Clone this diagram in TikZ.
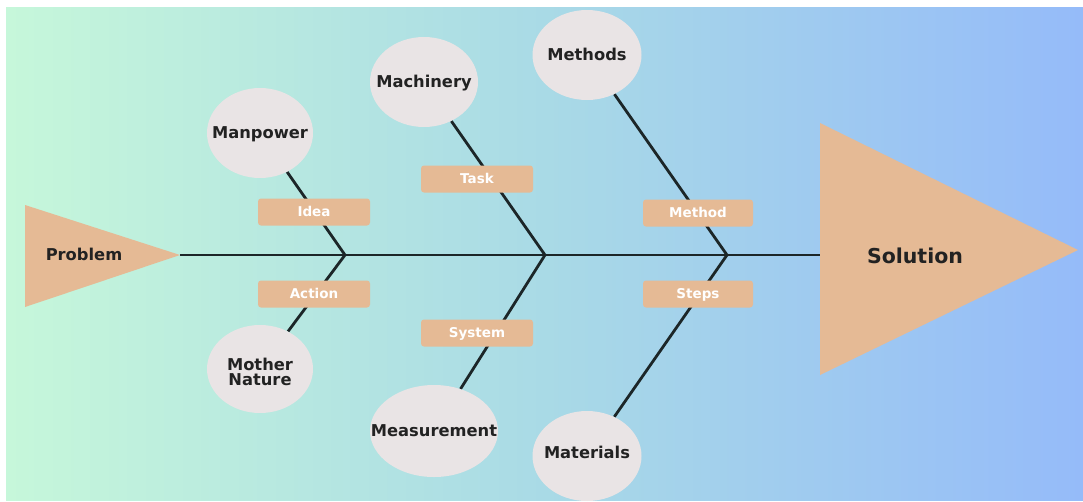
\documentclass[tikz,border=0pt]{standalone}
\usepackage{fontspec}
\setmainfont{DejaVu Sans}
\usetikzlibrary{shapes.geometric}
\pgfdeclarelayer{bgl}
\pgfdeclarelayer{lines}
\pgfsetlayers{bgl,lines,main}
\definecolor{bgL}{HTML}{C6F7DA}
\definecolor{bgM}{HTML}{A9DAE6}
\definecolor{bgR}{HTML}{95BBF9}
\definecolor{tanfill}{HTML}{E5BA95}
\definecolor{circfill}{HTML}{E9E4E5}
\definecolor{ink}{HTML}{222222}
\definecolor{bonecol}{HTML}{1C2628}
\begin{document}
\begin{tikzpicture}[x=1pt,y=-1pt,
  cause/.style={ellipse, fill=circfill, inner sep=0pt},
  causetext/.style={text=ink, inner sep=0pt, font=\bfseries\fontsize{16.3}{15.5}\selectfont, align=center},
  tag/.style={rectangle, rounded corners=3pt, fill=tanfill, minimum width=112, minimum height=27, inner sep=0pt,
    text=white, font=\bfseries\fontsize{13.5}{15}\selectfont, text height=9.8pt, text depth=0pt},
  bonel/.style={draw=bonecol, line width=2.8pt},
  spinel/.style={draw=bonecol, line width=2pt},
  headshape/.style={fill=tanfill},
]
\useasboundingbox (0,0) rectangle (1083,501);
\begin{pgfonlayer}{bgl}
  \fill[white] (0,0) rectangle (1083,501);
  \fill[left color=bgL, right color=bgR, middle color=bgM] (6,7) rectangle (1083,500);
\end{pgfonlayer}

% heads
\fill[headshape] (25,205) -- (180,255) -- (25,307) -- cycle;
\coordinate (ptip) at (180,255);
\node[causetext, text height=11.9pt, text depth=0pt] (problem) at (84,255) {Problem};
\fill[headshape] (820,123) -- (1078,250) -- (820,375) -- cycle;
\coordinate (sleft) at (820,255);
\node[text=ink, inner sep=0pt, font=\bfseries\fontsize{20.5}{22}\selectfont, text height=15pt, text depth=0pt] (solution) at (915,256) {Solution};

% junctions on spine
\coordinate (j1) at (345,255);
\coordinate (j2) at (545,255);
\coordinate (j3) at (727,255);

% causes
\node[cause, minimum width=106, minimum height=90] (manpower) at (260,133) {};
\node[causetext, text height=11.9pt, text depth=0pt] (manpower-t) at (manpower) {Manpower};
\node[cause, minimum width=106, minimum height=88] (nature) at (260,369) {};
\node[causetext] (nature-t) at (260,372) {Mother\\Nature};
\node[cause, minimum width=108, minimum height=90] (machinery) at (424,82) {};
\node[causetext, text height=11.9pt, text depth=0pt] (machinery-t) at (machinery) {Machinery};
\node[cause, minimum width=128, minimum height=92] (measurement) at (434,431) {};
\node[causetext, text height=11.9pt, text depth=0pt] (measurement-t) at (measurement) {Measurement};
\node[cause, minimum width=109, minimum height=90] (methods) at (587,55) {};
\node[causetext, text height=11.9pt, text depth=0pt] (methods-t) at (methods) {Methods};
\node[cause, minimum width=109, minimum height=90] (materials) at (587,456) {};
\node[causetext, text height=11.9pt, text depth=0pt] (materials-t) at (587,453) {Materials};

% tags
\node[tag] (idea) at (314,212) {Idea};
\node[tag] (action) at (314,294) {Action};
\node[tag] (task) at (477,179) {Task};
\node[tag] (system) at (477,333) {System};
\node[tag, minimum width=110] (method) at (698,213) {Method};
\node[tag, minimum width=110] (steps) at (698,294) {Steps};

\begin{pgfonlayer}{lines}
  \draw[spinel] (ptip) -- (sleft);
  \draw[bonel] (j1) -- (manpower);
  \draw[bonel] (j1) -- (nature);
  \draw[bonel] (j2) -- (machinery);
  \draw[bonel] (j2) -- (measurement);
  \draw[bonel] (j3) -- (methods);
  \draw[bonel] (j3) -- (materials);
\end{pgfonlayer}
\end{tikzpicture}
\end{document}
